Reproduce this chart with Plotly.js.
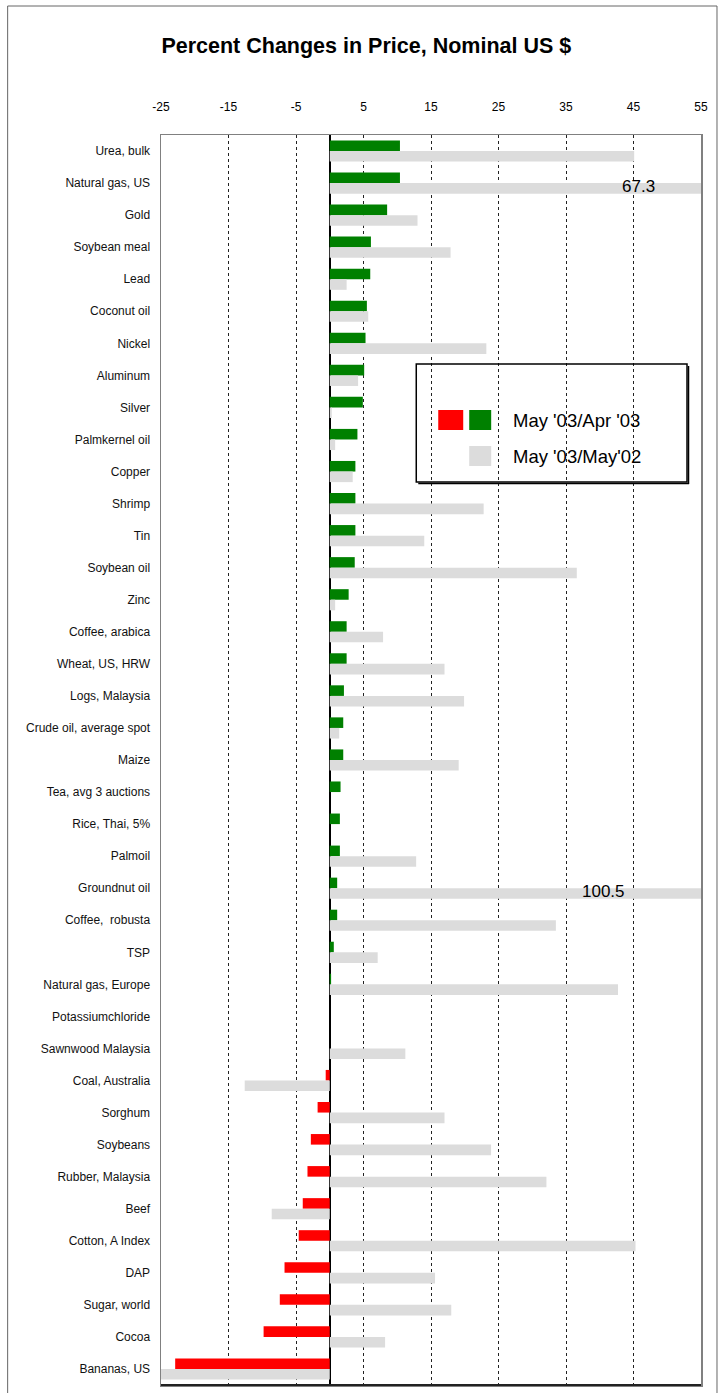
<!DOCTYPE html>
<html><head><meta charset="utf-8">
<script src="https://cdn.plot.ly/plotly-3.0.1.min.js"></script>
<style>html,body{margin:0;padding:0;background:#fff}#chart{width:721px;height:1393px}</style>
</head><body><div id="chart"></div>
<script>
const categories = ["Urea, bulk","Natural gas, US","Gold","Soybean meal","Lead","Coconut oil","Nickel","Aluminum","Silver","Palmkernel oil","Copper","Shrimp","Tin","Soybean oil","Zinc","Coffee, arabica","Wheat, US, HRW","Logs, Malaysia","Crude oil, average spot","Maize","Tea, avg 3 auctions","Rice, Thai, 5%","Palmoil","Groundnut oil","Coffee,  robusta","TSP","Natural gas, Europe","Potassiumchloride","Sawnwood Malaysia","Coal, Australia","Sorghum","Soybeans","Rubber, Malaysia","Beef","Cotton, A Index","DAP","Sugar, world","Cocoa","Bananas, US"];
const changeMonth = [10.4,10.4,8.5,6.1,6.0,5.5,5.3,5.1,4.9,4.1,3.8,3.8,3.8,3.7,2.8,2.5,2.5,2.1,2.0,2.0,1.6,1.5,1.5,1.1,1.1,0.6,0.2,0,0,-0.6,-1.8,-2.8,-3.3,-4.0,-4.6,-6.7,-7.4,-9.8,-22.9];
const changeYear = [45.1,67.3,13.0,17.9,2.5,5.7,23.2,4.2,0.3,0.8,3.4,22.8,14.0,36.6,0.8,7.9,17.0,19.9,1.4,19.1,0,0,12.8,100.5,33.5,7.1,42.7,0,11.2,-12.6,17.0,23.9,32.1,-8.6,45.3,15.6,18.0,8.2,-25.5];
const xTicks = [-25,-15,-5,5,15,25,35,45,55];
const seriesNames = ["May '03/Apr '03","May '03/May'02"];

const FONT = '"Liberation Sans Narrow", "Arial Narrow", "Liberation Sans", Arial, sans-serif';
const GREEN = '#008000', RED = '#ff0000', GREY = '#dcdcdc';
const W = 721, H = 1393;
const M = {l:160.5, r:20, t:135, b:8};
const PW = W - M.l - M.r, PH = H - M.t - M.b;
const px = x => (x - M.l) / PW;
const py = y => (H - M.b - y) / PH;

const traces = [
  {type:'bar', orientation:'h', name:seriesNames[0], y:categories, x:changeMonth,
   marker:{color:changeMonth.map(v => v < 0 ? RED : GREEN), line:{width:0}}, showlegend:false},
  {type:'bar', orientation:'h', name:seriesNames[1], y:categories, x:changeYear,
   marker:{color:GREY, line:{width:0}}, showlegend:false}
];

const xMax = 55;
const annotations = [];
changeYear.forEach((v,i) => {
  if (v > xMax) {
    annotations.push({x: v > 80 ? 40.6 : 45.7, y: categories[i], xref:'x', yref:'y', text:String(v),
      showarrow:false, yshift:-3, font:{family:FONT, size:17, color:'#000'}});
  }
});
// custom legend
annotations.push({x:px(511), y:py(420), xref:'paper', yref:'paper', xanchor:'left', yanchor:'middle',
  text:seriesNames[0], showarrow:false, font:{family:FONT, size:18.5, color:'#000'}});
annotations.push({x:px(511), y:py(456), xref:'paper', yref:'paper', xanchor:'left', yanchor:'middle',
  text:seriesNames[1], showarrow:false, font:{family:FONT, size:18.5, color:'#000'}});

const rect = (x0,y0,x1,y1,extra) => Object.assign({type:'rect', xref:'paper', yref:'paper',
  x0:px(x0), x1:px(x1), y0:py(y0), y1:py(y1)}, extra);
const line = (x0,y0,x1,y1,extra) => Object.assign({type:'line', xref:'paper', yref:'paper',
  x0:px(x0), x1:px(x1), y0:py(y0), y1:py(y1)}, extra);

const shapes = [
  rect(7, 6, 717, 1400, {line:{color:'#666', width:1}, layer:'below'}),
  line(160.5, 1385, 701, 1385, {line:{color:'#222', width:2}}),
  rect(416, 364, 687, 482, {line:{color:'#000', width:1.5}}),
  line(418, 483.5, 689, 483.5, {line:{color:'#000', width:1.5}}),
  line(688.5, 366, 688.5, 484, {line:{color:'#000', width:1.5}}),
  rect(438, 410, 463, 430, {fillcolor:RED, line:{width:0}}),
  rect(469, 410, 491, 430, {fillcolor:GREEN, line:{width:0}}),
  rect(469, 446, 491, 466, {fillcolor:GREY, line:{width:0}})
];

const layout = {
  width:W, height:H, margin:M, paper_bgcolor:'#fff', plot_bgcolor:'#fff',
  title:{text:'Percent Changes in Price, Nominal US $', x:px(366), xref:'paper', xanchor:'center', y:1-45/H, yanchor:'middle',
    font:{family:FONT, size:21.5, color:'#000', weight:'bold'}},
  barmode:'group', bargap:0.34, bargroupgap:0, showlegend:false,
  xaxis:{side:'top', range:[-25,55], tickvals:xTicks, ticktext:xTicks.map(String), ticks:'', ticklabelstandoff:18,
    tickfont:{family:FONT, size:12, color:'#000'}, showgrid:true, griddash:'3px,3px', gridcolor:'#222', gridwidth:1,
    zeroline:true, zerolinecolor:'#000', zerolinewidth:1.5, showline:true, mirror:true, linecolor:'#808080', linewidth:1.5, fixedrange:true},
  yaxis:{type:'category', autorange:'reversed', ticks:'', ticklabelstandoff:7, showgrid:false,
    tickfont:{family:FONT, size:12, color:'#111'}, showline:true, mirror:true, linecolor:'#808080', linewidth:1.5, fixedrange:true},
  annotations:annotations, shapes:shapes, hovermode:false
};
Plotly.newPlot('chart', traces, layout, {staticPlot:true, displayModeBar:false});
</script></body></html>
